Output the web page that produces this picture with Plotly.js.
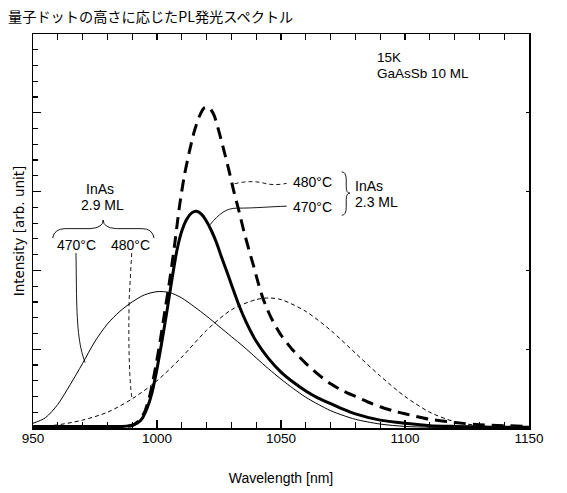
<!DOCTYPE html>
<html>
<head>
<meta charset="utf-8">
<script src="https://cdn.plot.ly/plotly-3.0.1.min.js"></script>
<style>
  html, body { margin: 0; padding: 0; background: #fff; }
  #chart { width: 567px; height: 493px; }
</style>
</head>
<body>
<div id="chart"></div>
<script>
// ---- Data ----
const chartTitle = "量子ドットの高さに応じたPL発光スペクトル";
const xTitle = "Wavelength [nm]";
const yTitle = "Intensity [arb. unit]";

// InAs 2.9 ML, 470°C (thin solid)
const wl_29_470 = [950,955,960,965,970,975,980,985,990,995,1000,1005,1010,1015,1020,1025,1030,1035,1040,1045,1050,1055,1060,1065,1070,1075,1080,1090,1100,1110,1120,1150];
const in_29_470 = [0.06,0.13,0.30,0.55,0.82,1.10,1.32,1.48,1.60,1.69,1.73,1.72,1.65,1.54,1.42,1.29,1.16,1.03,0.89,0.75,0.62,0.50,0.39,0.30,0.22,0.16,0.11,0.05,0.02,0.01,0.005,0.0];

// InAs 2.9 ML, 480°C (thin dashed)
const wl_29_480 = [950,960,970,980,990,1000,1010,1020,1030,1040,1045,1050,1060,1070,1080,1090,1100,1110,1120,1130,1140,1150];
const in_29_480 = [0.01,0.04,0.10,0.20,0.37,0.60,0.90,1.24,1.50,1.63,1.65,1.63,1.48,1.24,0.95,0.66,0.40,0.20,0.08,0.03,0.01,0.0];

// InAs 2.3 ML, 470°C (thick solid)
const wl_23_470 = [950,960,970,980,986,989,992,994,996,998,1000,1002,1004,1006,1008,1010,1012,1014,1016,1018,1020,1022,1024,1026,1028,1030,1033,1036,1040,1045,1050,1055,1060,1065,1070,1075,1080,1090,1100,1110,1120,1135,1150];
const in_23_470 = [0.02,0.02,0.02,0.02,0.02,0.03,0.06,0.12,0.25,0.45,0.75,1.10,1.48,1.88,2.25,2.50,2.65,2.73,2.75,2.71,2.62,2.50,2.35,2.17,2.00,1.82,1.56,1.34,1.10,0.88,0.71,0.58,0.47,0.38,0.31,0.24,0.18,0.10,0.06,0.03,0.02,0.01,0.01];

// InAs 2.3 ML, 480°C (thick dashed)
const wl_23_480 = [950,960,970,980,987,990,993,995,997,999,1001,1003,1005,1007,1009,1011,1013,1015,1017,1019,1021,1023,1025,1027,1029,1031,1033,1035,1037,1039,1041,1043,1046,1050,1055,1060,1065,1070,1075,1080,1085,1090,1095,1100,1110,1120,1130,1140,1150];
const in_23_480 = [0.02,0.02,0.02,0.02,0.02,0.03,0.10,0.20,0.40,0.70,1.05,1.45,1.85,2.30,2.80,3.20,3.50,3.76,3.95,4.06,4.07,3.97,3.76,3.52,3.27,3.00,2.76,2.50,2.27,2.05,1.82,1.62,1.40,1.18,0.98,0.82,0.68,0.56,0.47,0.40,0.33,0.27,0.22,0.18,0.11,0.07,0.04,0.03,0.02];

const xTickVals = [950, 1000, 1050, 1100, 1150];
const xTickText = ["950", "1000", "1050", "1100", "1150"];

// ---- Figure ----
const latin = "Liberation Sans, Arial, sans-serif";

const traces = [
  { x: wl_29_470, y: in_29_470, mode: "lines", name: "InAs 2.9 ML 470°C",
    line: { color: "#000", width: 1, shape: "spline", smoothing: 0.8 } },
  { x: wl_29_480, y: in_29_480, mode: "lines", name: "InAs 2.9 ML 480°C",
    line: { color: "#000", width: 1, dash: "4px,3px", shape: "spline", smoothing: 0.8 } },
  { x: wl_23_480, y: in_23_480, mode: "lines", name: "InAs 2.3 ML 480°C",
    line: { color: "#000", width: 3, dash: "12px,7px", shape: "spline", smoothing: 0.6 } },
  { x: wl_23_470, y: in_23_470, mode: "lines", name: "InAs 2.3 ML 470°C",
    line: { color: "#000", width: 3, shape: "spline", smoothing: 0.6 } },
  // helpers so the overlaid tick axes are drawn
  { x: [950], y: [0], xaxis: "x2", yaxis: "y2", mode: "lines", showlegend: false, hoverinfo: "skip", line: { width: 0 } },
  { x: [950], y: [0], xaxis: "x", yaxis: "y3", mode: "lines", showlegend: false, hoverinfo: "skip", line: { width: 0 } }
];

function txt(text, x, y, xanchor, size) {
  return { text: text, x: x, y: y, xref: "x", yref: "y", showarrow: false,
           xanchor: xanchor || "center", yanchor: "middle",
           font: { family: latin, size: size || 14, color: "#000" } };
}

const annotations = [
  txt("InAs", 977.0, 3.03),
  txt("2.9 ML", 978.0, 2.83),
  txt("470°C", 967.5, 2.32),
  txt("480°C", 989.3, 2.32),
  txt("480°C", 1062.6, 3.126),
  txt("470°C", 1062.6, 2.808),
  txt("InAs", 1078.9, 3.07, "left"),
  txt("2.3 ML", 1078.9, 2.862, "left"),
  txt("15K", 1087.9, 4.705, "left", 13.5),
  txt("GaAsSb 10 ML", 1087.9, 4.505, "left", 13.5)
];

const thin = { color: "#000", width: 0.9 };
const thinDash = { color: "#000", width: 0.9, dash: "4px,3px" };
function pathShape(p, line) {
  return { type: "path", xref: "x", yref: "y", path: p, line: line, fillcolor: "rgba(0,0,0,0)" };
}
const shapes = [
  // left brace over 470 / 480 °C
  pathShape("M 957.9,2.41 Q 958.6,2.53 963,2.53 L 973,2.53 Q 978.3,2.54 978.3,2.64 Q 978.3,2.54 983.6,2.53 L 994,2.53 Q 998.2,2.53 998.8,2.41", thin),
  // left leaders
  pathShape("M 967.34,2.22 L 967.5,1.80 C 967.7,1.30 968.4,1.05 971,0.83", thin),
  pathShape("M 989.8,2.22 L 988.8,1.65 C 988.4,1.10 988.8,0.60 989.9,0.38", thinDash),
  // right leaders
  pathShape("M 1031.3,3.10 C 1036,3.135 1040,3.135 1044,3.10 C 1047,3.08 1050,3.09 1052.3,3.105", thinDash),
  pathShape("M 1021.4,2.58 C 1025,2.72 1028,2.79 1032.1,2.79 C 1040,2.79 1046,2.81 1052.3,2.815", thin),
  // right brace
  pathShape("M 1074.5,3.25 Q 1076.3,3.25 1076.3,3.15 L 1076.3,3.06 Q 1076.3,2.98 1077.8,2.98 Q 1076.3,2.98 1076.3,2.90 L 1076.3,2.80 Q 1076.3,2.70 1074.5,2.70", thin)
];

const layout = {
  width: 567, height: 493,
  margin: { l: 33, r: 38, t: 34, b: 65, pad: 0 },
  paper_bgcolor: "#fff", plot_bgcolor: "#fff",
  showlegend: false,
  title: { text: chartTitle, x: 8 / 567, xanchor: "left", xref: "container",
           y: 1 - 17 / 493, yanchor: "middle", yref: "container",
           font: { family: "Noto Sans CJK JP", size: 14.2, color: "#000" } },
  // 10 nm ticks on bottom and top, plus frame
  xaxis: {
    range: [950, 1150], dtick: 10, tick0: 950, tickmode: "linear",
    ticks: "inside", ticklen: 6, tickwidth: 1.2, tickcolor: "#000",
    showline: true, linecolor: "#000", linewidth: 1.5, mirror: "ticks",
    showgrid: false, zeroline: false, showticklabels: false,
    title: { text: xTitle, standoff: 44, font: { family: latin, size: 14, color: "#000" } }
  },
  // labelled 50 nm ticks
  xaxis2: {
    overlaying: "x", anchor: "y", side: "bottom", range: [950, 1150],
    tickmode: "array", tickvals: xTickVals, ticktext: xTickText,
    ticks: "inside", ticklen: 8, tickwidth: 1.2, tickcolor: "#000",
    showline: false, showgrid: false, zeroline: false,
    tickfont: { family: latin, size: 13.5, color: "#000" }
  },
  // left minor ticks + frame
  yaxis: {
    range: [0, 5], dtick: 0.2, tick0: 0, tickmode: "linear",
    ticks: "inside", ticklen: 5, tickwidth: 1.2, tickcolor: "#000",
    showline: true, linecolor: "#000", linewidth: 1.5, mirror: true,
    showgrid: false, zeroline: false, showticklabels: false,
    title: { text: yTitle, standoff: 4, font: { family: "DejaVu Sans", size: 13.5, color: "#000" } }
  },
  // right major ticks
  yaxis2: {
    overlaying: "y", anchor: "x", side: "right", range: [0, 5], dtick: 1, tickmode: "linear",
    ticks: "inside", ticklen: 3, tickwidth: 1.2, tickcolor: "#000",
    showline: false, showgrid: false, zeroline: false, showticklabels: false
  },
  // left major ticks
  yaxis3: {
    overlaying: "y", anchor: "x", side: "left", range: [0, 5], dtick: 1, tickmode: "linear",
    ticks: "inside", ticklen: 8, tickwidth: 1.2, tickcolor: "#000",
    showline: false, showgrid: false, zeroline: false, showticklabels: false
  },
  annotations: annotations,
  shapes: shapes
};

Plotly.newPlot("chart", traces, layout, { displayModeBar: false, staticPlot: true });
</script>
</body>
</html>
